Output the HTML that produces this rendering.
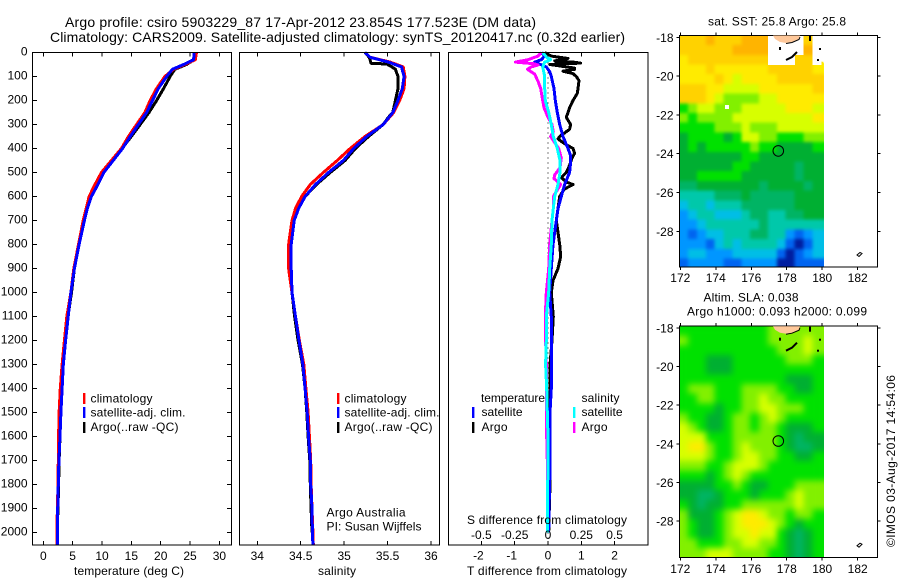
<!DOCTYPE html>
<html lang="en">
<head>
<meta charset="utf-8">
<title>Argo profile 5903229_87</title>
<style>
html,body{margin:0;padding:0;background:#fff;width:900px;height:580px;overflow:hidden}
svg{display:block}
text{font-family:"Liberation Sans",sans-serif;font-size:12px;fill:#000}
.title{font-size:14px}
</style>
</head>
<body>
<svg id="chart" width="900" height="580" viewBox="0 0 900 580" xmlns="http://www.w3.org/2000/svg">
  <defs>
    <filter id="soften-sst" filterUnits="userSpaceOnUse" x="660" y="20" width="190" height="265" color-interpolation-filters="sRGB">
      <feGaussianBlur stdDeviation="1.7"/>
      <feComponentTransfer><feFuncA type="linear" slope="40"/></feComponentTransfer>
    </filter>
    <filter id="soften-sla" filterUnits="userSpaceOnUse" x="660" y="310" width="190" height="265" color-interpolation-filters="sRGB">
      <feGaussianBlur stdDeviation="3.2"/>
      <feComponentTransfer><feFuncA type="linear" slope="40"/></feComponentTransfer>
    </filter>
    <clipPath id="clip-sst"><rect x="680" y="35.5" width="144" height="231.5"/></clipPath>
    <clipPath id="clip-sla"><rect x="680" y="326" width="144" height="231.5"/></clipPath>
  </defs>
  <rect x="0" y="0" width="900" height="580" fill="#fff"/>
  <text class="title" x="65" y="27" textLength="471" lengthAdjust="spacing">Argo profile: csiro 5903229_87 17-Apr-2012 23.854S 177.523E (DM data)</text>
  <text class="title" x="50" y="42" textLength="575" lengthAdjust="spacing">Climatology: CARS2009. Satellite-adjusted climatology: synTS_20120417.nc (0.32d earlier)</text>

  <g clip-path="url(#clip-sst)">
    <g id="cells-sst" filter="url(#soften-sst)"></g>
    <g id="nodata-sst"></g>
  </g>
  <g clip-path="url(#clip-sla)">
    <g id="cells-sla" filter="url(#soften-sla)"></g>
    <g id="nodata-sla"></g>
  </g>
  <g id="marks"></g>
  <g id="axes"></g>

  <g>
    <path d="M773,35.5 L800,35.5 L799,39 L792,42 L786,43 L780,42 L775,39 Z" fill="#ffc89a"/>
    <path d="M786,43.5 L792,42.5 L799,39.5 L800,37" fill="none" stroke="#000" stroke-width="1"/>
    <path d="M786,60 L792,57 L797,52" fill="none" stroke="#000" stroke-width="2"/>
    <rect x="779" y="47" width="2" height="3"/>
    <rect x="809" y="36" width="2" height="5"/>
    <rect x="819" y="48" width="2" height="2"/>
    <rect x="817" y="59" width="2" height="2"/>
    <rect x="725" y="105" width="4" height="4" fill="#fff"/>
    <path d="M857,255 L860,252.5 L862,253.5 L859,256.5 Z" fill="#fff" stroke="#000" stroke-width="1"/>
  </g>
  <g>
    <path d="M773,326.2 L800,326.2 L799,329.7 L792,332.7 L786,333.7 L780,332.7 L775,329.7 Z" fill="#ffc89a"/>
    <path d="M786,334.2 L792,333.2 L799,330.2 L800,327.7" fill="none" stroke="#000" stroke-width="1"/>
    <path d="M786,350.7 L792,347.7 L797,342.7" fill="none" stroke="#000" stroke-width="2"/>
    <rect x="779" y="337.7" width="2" height="3"/>
    <rect x="809" y="326.7" width="2" height="5"/>
    <rect x="819" y="338.7" width="2" height="2"/>
    <rect x="817" y="349.7" width="2" height="2"/>
    <path d="M857,545.7 L860,543.2 L862,544.2 L859,547.2 Z" fill="#fff" stroke="#000" stroke-width="1"/>
  </g>

  <g>
    <rect x="83" y="393" width="2.4" height="11" fill="#f00"/>
    <text x="90.5" y="402.5" textLength="62">climatology</text>
    <rect x="83" y="407" width="2.4" height="11" fill="#00f"/>
    <text x="90.5" y="416.5" textLength="95">satellite-adj. clim.</text>
    <rect x="83" y="422" width="2.4" height="11" fill="#000"/>
    <text x="90.5" y="431" textLength="88">Argo(..raw -QC)</text>
  </g>
  <g>
    <rect x="337" y="393" width="2.4" height="11" fill="#f00"/>
    <text x="344.5" y="402.5" textLength="62">climatology</text>
    <rect x="337" y="407" width="2.4" height="11" fill="#00f"/>
    <text x="344.5" y="416.5" textLength="95">satellite-adj. clim.</text>
    <rect x="337" y="422" width="2.4" height="11" fill="#000"/>
    <text x="344.5" y="431" textLength="88">Argo(..raw -QC)</text>
  </g>
  <text x="326.5" y="516.5" textLength="79">Argo Australia</text>
  <text x="326.5" y="530.5" textLength="95">PI: Susan Wijffels</text>

  <g>
    <text x="481" y="402" textLength="64">temperature</text>
    <rect x="472" y="407" width="2.4" height="11" fill="#00f"/>
    <text x="481.5" y="416" textLength="41">satellite</text>
    <rect x="472" y="422" width="2.4" height="11" fill="#000"/>
    <text x="481.5" y="431" textLength="26">Argo</text>
    <text x="581.5" y="402" textLength="38">salinity</text>
    <rect x="573" y="407" width="2.4" height="11" fill="#0ff"/>
    <text x="581.5" y="416" textLength="41">satellite</text>
    <rect x="573" y="422" width="2.4" height="11" fill="#f0f"/>
    <text x="581.5" y="431" textLength="26">Argo</text>
  </g>

  <text x="74" y="575" textLength="110">temperature (deg C)</text>
  <text x="318" y="575" textLength="38">salinity</text>
  <text x="467" y="575" textLength="160">T difference from climatology</text>
  <text x="467" y="524" textLength="160">S difference from climatology</text>

  <text x="708" y="25.5" textLength="138">sat. SST: 25.8 Argo: 25.8</text>
  <text x="703.5" y="301.5" textLength="95">Altim. SLA: 0.038</text>
  <text x="687" y="315.5" textLength="180">Argo h1000: 0.093 h2000: 0.099</text>
  <text transform="translate(895,547) rotate(-90)" x="0" y="0" textLength="172">©IMOS 03-Aug-2017 14:54:06</text>
</svg>
<script>
/* ---- profile data ---- */
const deepDepths = [1100,1200,1300,1400,1500,1600,1700,1800,1900,2000];
const tempDepths = [0,30,50,70,100,150,200,250,300,350,400,450,500,550,600,650,700,800,900,1000,1100,1200,1300,1400,1500,1600,1700,1800,1900,2000,2050];
const tempClim = [26.1,25.9,24.1,22.2,20.7,19.3,18.2,17.3,15.9,14.5,13.3,11.6,9.9,8.8,7.8,7.3,6.8,6,5.2,4.7,4,3.6,3.2,2.9,2.7,2.6,2.55,2.5,2.4,2.3,2.3];
const tempSat = [25.7,25.6,23.9,22,21,19.6,18.6,17.6,16.2,14.8,13.5,11.9,10.3,9.3,8.2,7.5,7,6.1,5.3,4.7,4.25,3.8,3.4,3.2,3,2.85,2.65,2.55,2.45,2.4,2.4];
const tempArgo = [25.7,25.7,24.4,22.4,21.6,20.5,19.3,18,16.5,15,13.4,11.9,10.3,9.1,8.1,7.5,6.9,6.1,5.3,4.8,4.2,3.8,3.4,3.2,3,2.85,2.7,2.6,2.5,2.35,2.3];

const salDepths = [0,20,40,60,100,150,200,250,300,350,400,450,500,550,600,650,700,800,900,1000,1100,1200,1300,1400,1500,1600,1700,1800,1900,2000,2050];
const salClim = [35.24,35.3,35.53,35.68,35.7,35.69,35.64,35.57,35.45,35.24,35.07,34.92,34.76,34.61,34.51,34.44,34.4,34.36,34.36,34.4,34.44,34.485,34.535,34.56,34.585,34.6,34.615,34.62,34.63,34.64,34.645];
const salSat = [35.24,35.3,35.51,35.66,35.69,35.67,35.62,35.56,35.45,35.26,35.11,34.99,34.82,34.67,34.55,34.475,34.425,34.39,34.39,34.4,34.44,34.48,34.525,34.55,34.575,34.59,34.61,34.615,34.63,34.635,34.64];
const salArgoDepths = [0,20,45,48,60,70,100,150,200,250,270,300,350,400,450,500,550,600,650,700,800,900,1000,1100,1200,1300,1400,1500,1600,1700,1800,1900,2000];
const salArgo = [35.24,35.29,35.31,35.49,35.55,35.59,35.62,35.62,35.59,35.56,35.51,35.45,35.28,35.13,35.01,34.84,34.68,34.55,34.47,34.425,34.39,34.38,34.4,34.43,34.47,34.52,34.55,34.57,34.585,34.605,34.61,34.62,34.63];

const tDiffArgoDepths = [0,15,25,35,40,44,50,55,65,70,78,88,100,117,150,170,200,230,270,300,320,350,360,380,400,420,440,470,500,520,540,550,570,600,650,700,750,800,850,900,950,1000].concat(deepDepths);
const tDiffArgo = [-0.1,0.1,0.6,0.2,0.75,0.98,0.05,0.3,0.8,0.8,0.45,0.75,0.85,0.93,0.9,0.88,0.75,0.65,0.55,0.68,0.65,0.35,0.3,0.5,0.75,0.8,0.72,0.65,0.55,0.4,0.55,0.75,0.48,0.35,0.3,0.25,0.3,0.35,0.38,0.3,0.15,0.1,0.16,0.12,0.06,0.06,0.06,0.06,0.06,0.06,0.04,0.02];
const tDiffSatDepths = [0,15,30,40,60,80,100,150,200,250,300,350,400,430,460,500,550,600,650,700,750,800,900,1000].concat(deepDepths);
const tDiffSat = [-0.2,-0.1,-0.2,-0.4,-0.05,0.05,0.1,0.18,0.22,0.28,0.35,0.45,0.6,0.68,0.68,0.65,0.5,0.4,0.3,0.25,0.2,0.15,0.1,0.05,0.1,0.1,0.1,0.1,0.06,0.06,0.06,0.05,0.03,0.02];
const sDiffArgoDepths = [0,15,30,40,47,52,60,70,90,120,150,200,230,270,300,330,350,400,440,480,510,525,550,600,650,700,800,900,1000].concat(deepDepths);
const sDiffArgo = [-0.05,-0.075,-0.15,-0.245,-0.1,-0.075,-0.125,-0.155,-0.1,-0.075,-0.055,-0.04,-0.03,0,0.03,0.04,0.02,0.08,0.1,0.09,0.05,0.045,0.095,0.04,0.04,0.03,0.0125,0.005,-0.0125,-0.02,-0.018,-0.0125,-0.01,-0.0125,-0.01,-0.005,-0.005,-0.0025,-0.005];
const sDiffSatDepths = [0,20,30,40,60,100,150,200,250,300,350,400,450,500,550,600,650,700,800,900,1000].concat(deepDepths);
const sDiffSat = [-0.04,-0.01,0.02,-0.025,-0.04,-0.025,-0.025,-0.02,0.005,0.025,0.04,0.07,0.09,0.09,0.075,0.05,0.04,0.03,0.025,0.0125,0.005,-0.0125,-0.0125,-0.018,-0.01,-0.005,0,0,-0.0025,-0.0025,-0.0025];

/* ---- tick labels ---- */
const depthTicks = [0,100,200,300,400,500,600,700,800,900,1000,1100,1200,1300,1400,1500,1600,1700,1800,1900,2000];
const tempTicks = [0,5,10,15,20,25,30];
const salTicks = [34,34.5,35,35.5,36];
const tDiffTicks = [-2,-1,0,1,2];
const sDiffTicks = [-0.5,-0.25,0,0.25,0.5];
const lonTicks = [172,174,176,178,180,182];
const latTicks = [-18,-20,-22,-24,-26,-28];

/* ---- map data: colour-level per 0.5 degree cell, null = no data ---- */
const sstLevels = [
[11,11,11,12,11,11,11,12,12,12,null,null,null,null,11,null],
[11,11,11,11,11,11,12,12,12,12,null,null,null,null,12,null],
[10,11,11,11,11,11,11,11,11,11,null,null,null,11,11,null],
[10,10,10,11,10,10,10,10,10,10,11,11,11,11,11,10],
[10,10,10,10,11,10,9,10,10,10,10,11,11,11,11,11],
[11,11,11,10,10,9,9,9,9,10,10,10,10,10,10,11],
[11,11,11,10,9,8,8,8,8,9,9,10,10,10,10,10],
[7,8,9,9,8,8,8,9,9,9,9,9,10,10,10,9],
[8,7,8,8,8,8,9,9,9,9,9,9,9,9,9,10],
[7,7,7,7,8,8,8,9,8,8,8,9,9,9,9,9],
[6,7,7,7,7,6,7,9,9,8,8,7,7,7,8,8],
[6,7,6,7,7,7,7,7,8,7,7,6,6,6,6,7],
[6,6,6,6,6,6,6,7,7,6,6,6,6,6,6,6],
[6,6,6,6,6,6,7,7,6,6,6,6,6,5,6,6],
[6,6,7,7,7,7,7,6,6,6,6,6,6,5,6,6],
[5,5,6,6,6,6,6,6,6,5,6,6,6,6,5,6],
[4,4,4,4,5,5,5,6,5,5,5,5,5,6,6,6],
[3,4,4,3,4,4,4,5,5,5,5,5,5,6,6,6],
[2,3,4,4,3,3,3,4,5,5,4,4,5,5,6,6],
[2,2,3,4,4,4,4,4,4,5,4,4,4,4,4,4],
[2,1,2,3,3,4,4,4,5,5,4,4,2,1,2,3],
[2,2,2,1,3,4,3,4,4,4,4,3,1,0,1,3],
[2,3,3,2,2,2,3,3,3,3,3,1,0,1,2,3],
[1,2,2,2,2,1,1,2,2,2,2,0,0,1,1,1]
];
const slaLevels = [
[7,7,7,7,7,7,7,7,7,7,8,8,8,8,8,8],
[8,7,7,7,7,7,7,7,7,7,8,8,8,8,9,8],
[7,7,7,7,7,7,7,7,7,7,7,8,8,8,9,8],
[7,7,7,6,6,6,7,7,7,7,7,7,8,8,8,7],
[7,7,7,6,6,6,7,7,7,7,7,7,7,7,7,7],
[7,7,7,7,7,7,7,7,7,7,7,7,6,6,6,7],
[7,8,8,8,7,7,7,8,8,8,8,7,7,6,6,7],
[7,7,8,8,7,7,7,8,8,9,8,8,7,7,7,7],
[7,7,7,7,6,7,7,8,8,9,9,8,8,8,7,7],
[8,7,7,6,6,7,8,8,7,8,9,8,7,7,7,7],
[9,8,7,6,6,7,8,8,7,8,8,7,6,6,6,7],
[9,9,9,7,7,7,8,8,8,8,8,7,6,5,6,6],
[9,10,10,8,7,7,8,9,8,8,8,7,6,5,5,6],
[9,9,9,8,7,7,8,9,9,8,8,7,7,6,6,7],
[8,8,8,7,7,8,9,9,9,8,7,7,7,7,7,7],
[7,7,7,6,7,8,9,8,7,7,7,7,7,7,7,7],
[6,6,6,6,7,7,8,7,6,6,7,7,7,8,8,8],
[6,6,5,5,6,7,7,7,6,7,7,7,8,9,8,8],
[7,6,5,6,6,7,7,8,8,8,8,8,8,9,8,8],
[8,6,6,6,7,8,9,10,10,9,8,8,7,8,8,7],
[8,7,6,6,7,8,9,10,10,10,9,8,7,6,7,7],
[8,7,6,6,7,8,9,9,10,9,9,7,6,5,6,7],
[8,8,7,7,7,8,8,9,9,8,8,7,6,5,6,7],
[8,8,8,9,9,9,8,8,8,8,7,7,6,5,6,7]
];
const argoLon = 177.523;
const argoLat = -23.854;
const cellDegrees = 0.5;
const firstCellLon = 172;
const firstCellLat = -17.9;

const NS = 'http://www.w3.org/2000/svg';
const colorScale = ['#001ea0','#0064f0','#0096ff','#00bee6','#00c8aa','#00b464','#00af32','#00e100','#82f000','#d7ff00','#ffeb00','#ffd200','#ffb400','#ff9600'];
const axesLayer = document.getElementById('axes');
const marksLayer = document.getElementById('marks');

function make(parent, tag, attrs) {
  const el = document.createElementNS(NS, tag);
  Object.keys(attrs).forEach(function (k) { el.setAttribute(k, attrs[k]); });
  parent.appendChild(el);
  return el;
}

/* ---- axis functions ---- */
const depthToY = function (d) { return 52.5 + d * 0.24; };
const tempToX = function (v) { return 43.3 + v * 5.87; };
const salToX = function (v) { return 257.3 + (v - 34) * 86.85; };
const tDiffToX = function (v) { return 548 + v * 33.3; };
const sDiffToX = function (v) { return 548 + v * 133.2; };
const lonToX = function (v) { return 680.3 + (v - 172) * 17.74; };
const sstLatToY = function (v) { return 37.3 + (-18 - v) * 19.4; };
const slaLatToY = function (v) { return 328 + (-18 - v) * 19.3; };

function drawLine(name, depths, values, xFn, color, width) {
  const pts = values.map(function (v, i) { return xFn(v).toFixed(1) + ',' + depthToY(depths[i]).toFixed(1); }).join(' ');
  const el = make(marksLayer, 'polyline', { points: pts, fill: 'none', stroke: color, 'stroke-width': width, 'stroke-linejoin': 'round', 'shape-rendering': 'crispEdges' });
  
  
}

function drawFrame(name, x0, y0, x1, y1) {
  const el = make(axesLayer, 'rect', { x: x0, y: y0, width: x1 - x0, height: y1 - y0, fill: 'none', stroke: '#000', 'stroke-width': 1, 'shape-rendering': 'crispEdges' });
  
  
}

function drawTick(name, x0, y0, x1, y1) {
  const el = make(axesLayer, 'line', { x1: x0, y1: y0, x2: x1, y2: y1, stroke: '#000', 'stroke-width': 1, 'shape-rendering': 'crispEdges' });
  
  
}

function drawLabel(name, x, y, anchor, str) {
  const el = make(axesLayer, 'text', { x: x, y: y, 'text-anchor': anchor });
  el.textContent = str;
  
  
}

function drawCells(layerId, nodataId, name, levels, latFn) {
  const layer = document.getElementById(layerId);
  const nodata = document.getElementById(nodataId);
  levels.forEach(function (row, r) {
    row.forEach(function (level, c) {
      const lon = firstCellLon - 0.06 + c * cellDegrees;
      const lat = firstCellLat - r * cellDegrees;
      const x0 = lonToX(lon);
      const y0 = latFn(lat);
      const el = make(level === null ? nodata : layer, 'rect', { x: x0.toFixed(2), y: y0.toFixed(2), width: (lonToX(lon + cellDegrees) - x0 + 0.3).toFixed(2), height: (latFn(lat - cellDegrees) - y0 + 0.3).toFixed(2), fill: level === null ? '#fff' : colorScale[level], 'shape-rendering': 'crispEdges' });
      
      
    });
  });
}

function drawMarker(name, latFn) {
  const el = make(axesLayer, 'circle', { cx: lonToX(argoLon).toFixed(1), cy: latFn(argoLat).toFixed(1), r: 5.3, fill: 'none', stroke: '#000', 'stroke-width': 1 });
  
  
}

/* ---- profile panels ---- */
const PTOP = 52.5, PBOT = 545;
drawFrame('temperature-panel-frame', 32.5, PTOP, 231.5, PBOT);
drawFrame('salinity-panel-frame', 239.5, PTOP, 439.5, PBOT);
drawFrame('difference-panel-frame', 448.5, PTOP, 648, PBOT);

depthTicks.forEach(function (d) {
  const y = depthToY(d);
  drawTick('depth-tick-left', 32.5, y, 37, y);
  drawTick('depth-tick-right', 231.5, y, 227, y);
  drawLabel('depth-tick-label', 27.5, y + 3, 'end', String(d));
});
tempTicks.forEach(function (v) {
  const x = tempToX(v);
  drawTick('temperature-tick-top', x, PTOP, x, PTOP + 4);
  drawTick('temperature-tick-bottom', x, PBOT, x, PBOT - 4);
  drawLabel('temperature-tick-label', x, 560, 'middle', String(v));
});
salTicks.forEach(function (v) {
  const x = salToX(v);
  drawTick('salinity-tick-top', x, PTOP, x, PTOP + 4);
  drawTick('salinity-tick-bottom', x, PBOT, x, PBOT - 4);
  drawLabel('salinity-tick-label', x, 560, 'middle', String(v));
});
tDiffTicks.forEach(function (v) {
  const x = tDiffToX(v);
  drawTick('t-difference-tick-top', x, PTOP, x, PTOP + 4);
  drawTick('t-difference-tick-bottom', x, PBOT, x, PBOT - 4);
  drawLabel('t-difference-tick-label', x - (v < 0 ? 3 : 0), 559.5, 'middle', String(v));
});
sDiffTicks.forEach(function (v) {
  drawLabel('s-difference-tick-label', sDiffToX(v), 539, 'middle', String(v));
});

const zeroLine = make(marksLayer, 'line', { x1: tDiffToX(0), y1: PTOP, x2: tDiffToX(0), y2: PBOT, stroke: '#000', 'stroke-width': 1, 'stroke-dasharray': '1 4', 'shape-rendering': 'crispEdges' });



drawLine('temperature-argo-line', tempDepths, tempArgo, tempToX, '#000', 3);
drawLine('temperature-climatology-line', tempDepths, tempClim, tempToX, '#f00', 3);
drawLine('temperature-satellite-line', tempDepths, tempSat, tempToX, '#00f', 3);

drawLine('salinity-argo-line', salArgoDepths, salArgo, salToX, '#000', 3);
drawLine('salinity-climatology-line', salDepths, salClim, salToX, '#f00', 3);
drawLine('salinity-satellite-line', salDepths, salSat, salToX, '#00f', 3);

drawLine('t-difference-argo-line', tDiffArgoDepths, tDiffArgo, tDiffToX, '#000', 3);
drawLine('t-difference-satellite-line', tDiffSatDepths, tDiffSat, tDiffToX, '#00f', 3);
drawLine('s-difference-argo-line', sDiffArgoDepths, sDiffArgo, sDiffToX, '#f0f', 3);
drawLine('s-difference-satellite-line', sDiffSatDepths, sDiffSat, sDiffToX, '#0ff', 3);

/* ---- maps ---- */
drawCells('cells-sst', 'nodata-sst', 'sst-cell', sstLevels, sstLatToY);
drawCells('cells-sla', 'nodata-sla', 'sla-cell', slaLevels, slaLatToY);

function drawMapAxes(prefix, top, bottom, latFn, labelY) {
  drawFrame(prefix + '-map-frame', 679.5, top, 877.5, bottom);
  lonTicks.forEach(function (v) {
    const x = lonToX(v);
    drawTick(prefix + '-lon-tick-top', x, top, x, top - 3);
    drawTick(prefix + '-lon-tick-bottom', x, bottom, x, bottom + 3);
    drawLabel(prefix + '-lon-tick-label', x, labelY, 'middle', String(v));
  });
  latTicks.forEach(function (v) {
    const y = latFn(v);
    drawTick(prefix + '-lat-tick-left', 679.5, y, 676.5, y);
    drawTick(prefix + '-lat-tick-right', 877.5, y, 880.5, y);
    drawLabel(prefix + '-lat-tick-label', 673.5, y + 4.5, 'end', String(v));
  });
}
drawMapAxes('sst', 35.5, 267, sstLatToY, 282);
drawMapAxes('sla', 326, 557.5, slaLatToY, 573);
drawMarker('sst-argo-position-marker', sstLatToY);
drawMarker('sla-argo-position-marker', slaLatToY);
</script>
</body>
</html>
